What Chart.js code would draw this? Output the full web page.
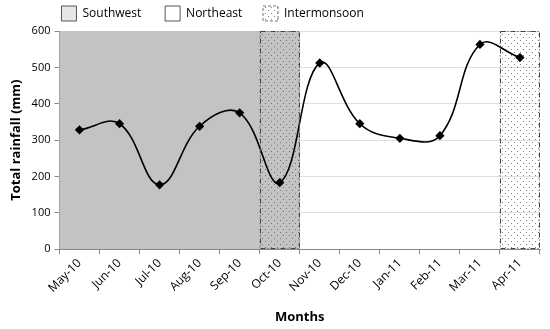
<!DOCTYPE html>
<html lang="en">
<head>
    <meta charset="UTF-8">
    <title>Total rainfall by month</title>
    <script src="https://cdn.jsdelivr.net/npm/chart.js@4/dist/chart.umd.min.js"></script>
    <style>
        body, html { margin: 0; padding: 0; background: #fff; }
        #wrap { width: 550px; height: 329px; }
    </style>
</head>
<body>
    <div id="wrap"><canvas id="myChart"></canvas></div>
    <script>
        // Monthly totals
        const months = ['May-10', 'Jun-10', 'Jul-10', 'Aug-10', 'Sep-10', 'Oct-10',
                        'Nov-10', 'Dec-10', 'Jan-11', 'Feb-11', 'Mar-11', 'Apr-11'];
        const rainfall = [328, 345, 177, 338, 375, 183, 512, 345, 305, 312, 563, 527];
        // Season shading (full height bars)
        const southwest = [600, 600, 600, 600, 600, 600, null, null, null, null, null, null];
        const intermonsoon = [null, null, null, null, null, 600, null, null, null, null, null, 600];
        const yTicks = [0, 100, 200, 300, 400, 500, 600];

        // dotted fill for the intermonsoon bars
        function dotPattern() {
            const c = document.createElement('canvas');
            c.width = 6; c.height = 6;
            const g = c.getContext('2d');
            g.fillStyle = 'rgba(90,90,90,0.75)';
            g.fillRect(1, 1, 1, 1);
            g.fillRect(4, 4, 1, 1);
            return g.createPattern(c, 'repeat');
        }
        const dots = dotPattern();

        // dash-dot outline round the intermonsoon bars
        const dashBorder = {
            id: 'dashBorder',
            afterDatasetsDraw(chart) {
                const meta = chart.getDatasetMeta(1);
                const ctx = chart.ctx;
                ctx.save();
                ctx.strokeStyle = '#444';
                ctx.lineWidth = 1;
                ctx.setLineDash([5, 2, 1, 2]);
                meta.data.forEach((bar, i) => {
                    if (intermonsoon[i] == null) return;
                    const p = bar.getProps(['x', 'y', 'base', 'width'], true);
                    ctx.strokeRect(Math.round(p.x - p.width / 2) + 0.5, Math.round(p.y) + 0.5,
                        Math.round(p.width) - 1, Math.round(p.base - p.y) - 1);
                });
                ctx.restore();
            }
        };

        const font = "'Open Sans', 'Noto Sans', sans-serif";
        Chart.defaults.font.family = font;
        Chart.defaults.color = '#000';

        new Chart(document.getElementById('myChart'), {
            data: {
                labels: months,
                datasets: [{
                    type: 'line',
                    label: 'Rainfall',
                    data: rainfall,
                    borderColor: '#000',
                    borderWidth: 1.6,
                    backgroundColor: '#000',
                    pointStyle: 'rectRot',
                    pointRadius: 3.5,
                    tension: 0.4,
                    order: 0
                }, {
                    type: 'bar',
                    label: 'Intermonsoon',
                    data: intermonsoon,
                    backgroundColor: dots,
                    borderWidth: 0,
                    grouped: false,
                    categoryPercentage: 1,
                    barPercentage: 1,
                    order: 1
                }, {
                    type: 'bar',
                    label: 'Southwest',
                    data: southwest,
                    backgroundColor: '#c3c3c3',
                    borderWidth: 0,
                    grouped: false,
                    categoryPercentage: 1,
                    barPercentage: 1,
                    order: 2
                }]
            },
            options: {
                responsive: true,
                maintainAspectRatio: false,
                animation: false,
                layout: { padding: { left: 4, right: 10, top: 4, bottom: 0 } },
                plugins: {
                    tooltip: { enabled: false },
                    legend: {
                        position: 'top',
                        align: 'start',
                        fullSize: false,
                        labels: {
                            boxWidth: 15,
                            boxHeight: 15,
                            padding: 2,
                            font: { size: 12 },
                            // trailing spaces keep the wide gaps between items
                            generateLabels() {
                                return [
                                    { text: 'Southwest       ', fillStyle: '#e6e6e6', strokeStyle: '#555', lineWidth: 1 },
                                    { text: 'Northeast      ', fillStyle: '#fff', strokeStyle: '#555', lineWidth: 1 },
                                    { text: 'Intermonsoon', fillStyle: dots, strokeStyle: '#777', lineWidth: 1, lineDash: [3, 2] }
                                ];
                            }
                        },
                        onClick: () => {}
                    }
                },
                scales: {
                    x: {
                        offset: true,
                        grid: { drawOnChartArea: false, drawTicks: true, tickLength: 5, color: '#888', offset: true },
                        border: { color: '#888' },
                        ticks: { font: { size: 12 }, maxRotation: 45, minRotation: 45, padding: 2 },
                        title: { display: true, text: 'Months', font: { size: 13, weight: 'bold' }, padding: { top: 12 } }
                    },
                    y: {
                        min: 0,
                        max: 600,
                        afterBuildTicks: axis => { axis.ticks = yTicks.map(v => ({ value: v })); },
                        grid: { color: '#e0e0e0', tickLength: 5, tickColor: '#888' },
                        border: { color: '#888' },
                        ticks: { font: { size: 11 }, padding: 4 },
                        title: { display: true, text: 'Total rainfall (mm)', font: { size: 13, weight: 'bold' }, padding: { bottom: 4 } }
                    }
                }
            },
            plugins: [dashBorder]
        });
    </script>
</body>
</html>
